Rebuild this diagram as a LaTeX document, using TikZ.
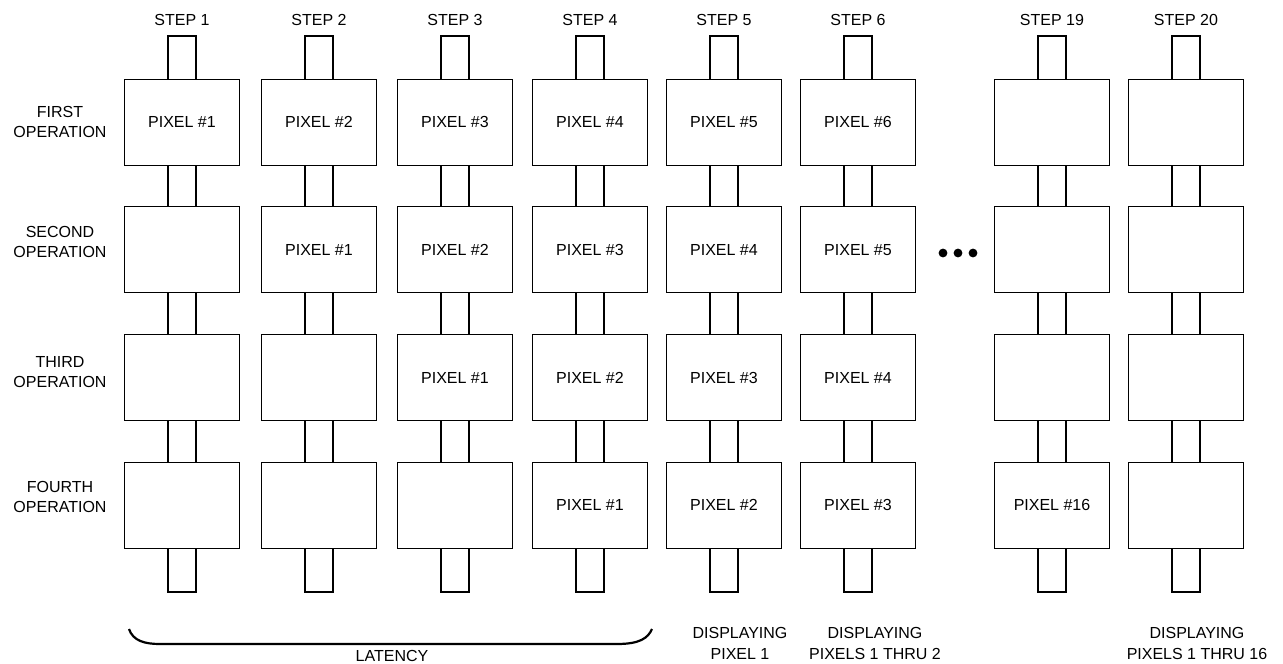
\documentclass[tikz,border=0pt]{standalone}
\usepackage{fontspec}
\setmainfont{Liberation Sans}
\usepackage{tikz}
\usetikzlibrary{positioning,calc}

\begin{document}
\begin{tikzpicture}[
    x=1pt, y=-1pt,
    txt/.style={font=\fontsize{16}{20.5}\selectfont, align=center, inner sep=0pt},
    cell/.style={draw, fill=white, line width=1.1pt, minimum width=115pt, minimum height=86pt, inner sep=0pt, txt},
    pipe/.style={draw, line width=1.1pt},
]
    \useasboundingbox (0,0) rectangle (1283,664);

    % row labels
    \node[txt] (op1) at (60,122) {FIRST\\OPERATION};
    \node[txt] (op2) at (60,242) {SECOND\\OPERATION};
    \node[txt] (op3) at (60,372) {THIRD\\OPERATION};
    \node[txt] (op4) at (60,497) {FOURTH\\OPERATION};

    % one column per step, 0 = empty box
    \foreach \col/\xc/\stp/\pa/\pb/\pc/\pd in {1/182/1/1/0/0/0, 2/319/2/2/1/0/0, 3/455/3/3/2/1/0, 4/590/4/4/3/2/1,
                                              5/724/5/5/4/3/2, 6/858/6/6/5/4/3, 7/1052/19/0/0/0/16, 8/1186/20/0/0/0/0} {
        \node[txt] (st\col) at (\xc,20) {STEP \stp};
        \coordinate (top\col) at (\xc,36);
        \coordinate (bot\col) at (\xc,592);
        \draw[pipe] ($(top\col)+(-14,0)$) rectangle ($(bot\col)+(14,0)$);
        \foreach \r/\p/\yc in {1/\pa/122.2, 2/\pb/249.8, 3/\pc/377.5, 4/\pd/505.3} {
            \node[cell] (c\col r\r) at (\xc,\yc) {\ifnum\p>0 PIXEL \#\p\fi};
        }
    }

    % dots between step 6 and step 19
    \foreach \i/\xd in {1/943, 2/958, 3/973} {
        \fill (\xd,253) circle (4.4pt);
    }

    % latency brace
    \coordinate (latl) at (129,629);
    \coordinate (latr) at (652,629);
    \draw[line width=2.2pt] (latl) .. controls (133,641) and (145,644) .. (160,644) -- (617,644)
        .. controls (640,644) and (648,638) .. (latr);
    \node[txt] (lat) at (392,656) {LATENCY};

    % display labels
    \node[txt] (disp5) at (740,643.5) {DISPLAYING\\PIXEL 1};
    \node[txt] (disp6) at (875,643.5) {DISPLAYING\\PIXELS 1 THRU 2};
    \node[txt] (disp20) at (1197,643.5) {DISPLAYING\\PIXELS 1 THRU 16};
\end{tikzpicture}
\end{document}
